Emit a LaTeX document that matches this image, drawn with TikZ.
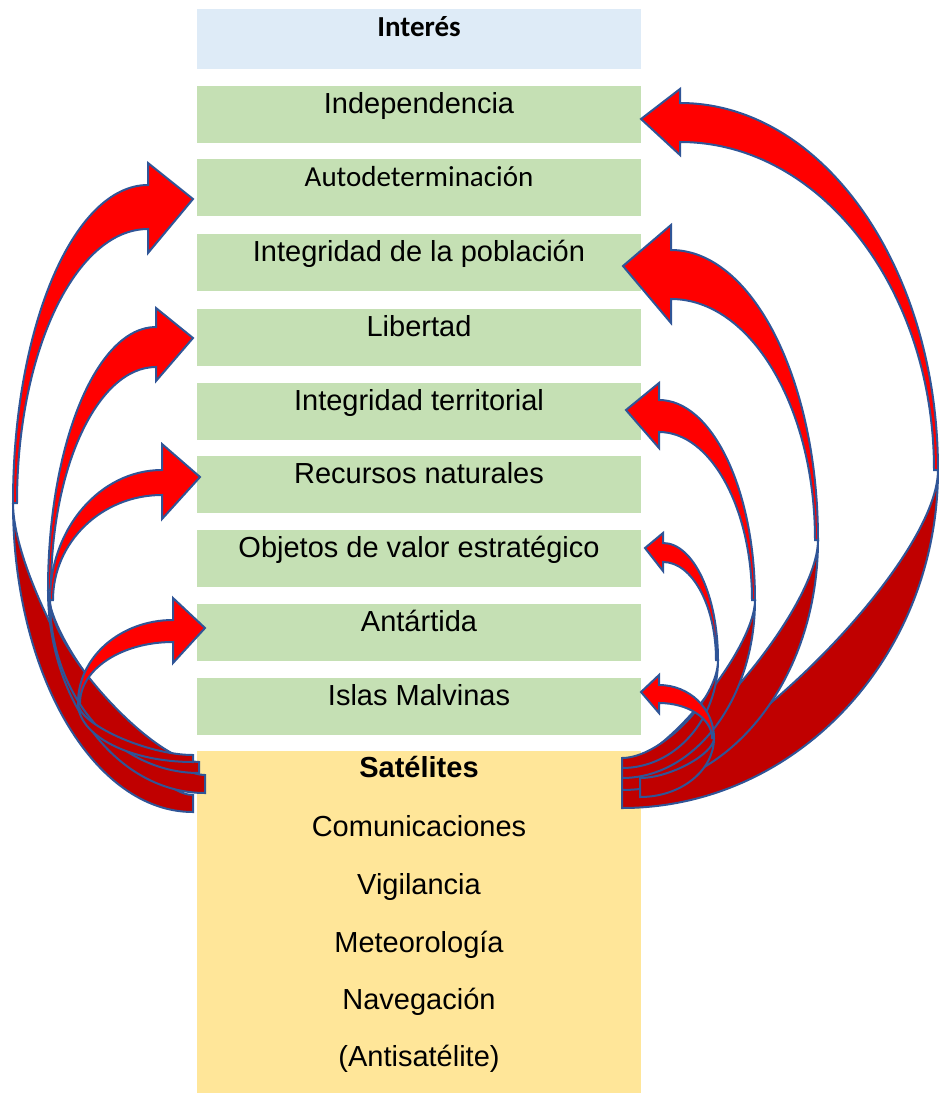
\documentclass[tikz,border=0pt]{standalone}
\usepackage{fontspec}
\setmainfont{Liberation Sans}
\newfontfamily\calib{Carlito}
\definecolor{hdrblue}{HTML}{DEEBF7}
\definecolor{rowgreen}{HTML}{C5E0B4}
\definecolor{satyellow}{HTML}{FFE699}
\definecolor{arrred}{HTML}{FF0000}
\definecolor{arrdark}{HTML}{C00000}
\definecolor{arrline}{HTML}{2F5597}
\begin{document}
\begin{tikzpicture}[x=1pt,y=1pt,
  box/.style={draw=none, inner sep=0pt, minimum width=444pt, anchor=north west},
  rowbox/.style={box, fill=rowgreen, minimum height=57pt},
  lbl/.style={anchor=base, inner sep=0pt, font=\fontsize{29}{35}\selectfont},
  clbl/.style={anchor=base, inner sep=0pt, font={\calib\fontsize{29}{35}\selectfont}},
  front/.style={fill=arrred, draw=arrline, line width=2pt},
  back/.style={fill=arrdark, draw=arrline, line width=2pt}]
\useasboundingbox (0,0) rectangle (939,-1093);

% boxes
\node[box, fill=hdrblue, minimum height=60pt] (b0) at (197,-9) {};
\node[rowbox] (b1) at (197,-86) {};
\node[rowbox] (b2) at (197,-159) {};
\node[rowbox] (b3) at (197,-234) {};
\node[rowbox] (b4) at (197,-309) {};
\node[rowbox] (b5) at (197,-383) {};
\node[rowbox] (b6) at (197,-456) {};
\node[rowbox] (b7) at (197,-530) {};
\node[rowbox] (b8) at (197,-604) {};
\node[rowbox] (b9) at (197,-678) {};
\node[box, fill=satyellow, minimum height=342pt] (sat) at (197,-751) {};

% texts
\node[clbl, font={\calib\bfseries\fontsize{29}{35}\selectfont}] (t0) at (419,-36) {Interés};
\node[lbl] (t1) at (419,-113) {Independencia};
\node[clbl] (t2) at (419,-186) {Autodeterminación};
\node[lbl] (t3) at (419,-261) {Integridad de la población};
\node[lbl] (t4) at (419,-336) {Libertad};
\node[lbl] (t5) at (419,-410) {Integridad territorial};
\node[lbl] (t6) at (419,-483) {Recursos naturales};
\node[lbl] (t7) at (419,-557) {Objetos de valor estratégico};
\node[lbl] (t8) at (419,-631) {Antártida};
\node[lbl] (t9) at (419,-705) {Islas Malvinas};
\node[lbl, font={\bfseries\fontsize{29}{35}\selectfont}] (s0) at (419,-777) {Satélites};
\node[lbl] (s1) at (419,-836) {Comunicaciones};
\node[lbl] (s2) at (419,-894) {Vigilancia};
\node[lbl] (s3) at (419,-952) {Meteorología};
\node[lbl] (s4) at (419,-1009) {Navegación};
\node[lbl] (s5) at (419,-1066) {(Antisatélite)};

% ---------- backs (dark) ----------
% left
\path[back] (13,-503) arc[start angle=180, end angle=270, x radius=180pt, y radius=309pt]
  -- (193,-795) .. controls (139,-795) and (13,-591) .. (13,-503) -- cycle;
\path[back] (48,-590) arc[start angle=180, end angle=270, x radius=157pt, y radius=203pt]
  -- (205,-775) .. controls (158,-775) and (48,-646) .. (48,-590) -- cycle;
\path[back] (50,-600) arc[start angle=180, end angle=270, x radius=149pt, y radius=173pt]
  -- (199,-762) .. controls (154,-762) and (50,-649) .. (50,-600) -- cycle;
\path[back] (78,-703) arc[start angle=180, end angle=270, x radius=115pt, y radius=59pt]
  -- (193,-755) .. controls (147,-755) and (78,-724) .. (78,-703) -- cycle;
% right
\path[back] (938,-470) arc[start angle=0, end angle=-90, x radius=316pt, y radius=338pt]
  -- (622,-783) .. controls (717,-783) and (938,-564) .. (938,-470) -- cycle;
\path[back] (818,-540) arc[start angle=0, end angle=-90, x radius=196pt, y radius=250pt]
  -- (622,-770) .. controls (681,-770) and (818,-609) .. (818,-540) -- cycle;
\path[back] (755,-600) arc[start angle=0, end angle=-90, x radius=133pt, y radius=178pt]
  -- (622,-763) .. controls (662,-763) and (755,-649) .. (755,-600) -- cycle;
\path[back] (718,-660) arc[start angle=0, end angle=-90, x radius=96pt, y radius=108pt]
  -- (622,-758) .. controls (660,-758) and (718,-700) .. (718,-660) -- cycle;
\path[back] (714,-738) arc[start angle=0, end angle=-90, x radius=74pt, y radius=59pt]
  -- (640,-778) .. controls (670,-778) and (714,-754) .. (714,-738) -- cycle;

% ---------- fronts (bright) ----------
% left
\path[front] (13,-503) arc[start angle=180, end angle=90, x radius=135pt, y radius=318pt]
  -- (148,-163) -- (193,-199) -- (148,-253) -- (148,-229)
  arc[start angle=90, end angle=180, x radius=131pt, y radius=274pt] -- cycle;
\path[front] (48,-590) arc[start angle=180, end angle=90, x radius=108pt, y radius=263pt]
  -- (156,-308) -- (193,-338) -- (156,-381) -- (156,-367)
  arc[start angle=90, end angle=180, x radius=105pt, y radius=223pt] -- cycle;
\path[front] (50,-600) arc[start angle=180, end angle=90, x radius=112pt, y radius=130pt]
  -- (162,-444) -- (200,-477) -- (162,-519) -- (162,-495)
  arc[start angle=90, end angle=180, x radius=109pt, y radius=105pt] -- cycle;
\path[front] (78,-703) arc[start angle=180, end angle=90, x radius=95pt, y radius=83pt]
  -- (173,-598) -- (205,-628) -- (173,-663) -- (173,-642)
  arc[start angle=90, end angle=180, x radius=93pt, y radius=61pt] -- cycle;
% right
\path[front] (938,-470) arc[start angle=0, end angle=90, x radius=258pt, y radius=367pt]
  -- (680,-89) -- (641,-119) -- (680,-155) -- (680,-142)
  arc[start angle=90, end angle=0, x radius=254pt, y radius=328pt] -- cycle;
\path[front] (818,-540) arc[start angle=0, end angle=90, x radius=147pt, y radius=290pt]
  -- (671,-225) -- (623,-266) -- (671,-323) -- (671,-299)
  arc[start angle=90, end angle=0, x radius=144pt, y radius=241pt] -- cycle;
\path[front] (755,-600) arc[start angle=0, end angle=90, x radius=96pt, y radius=200pt]
  -- (659,-383) -- (626,-410) -- (659,-448) -- (659,-432)
  arc[start angle=90, end angle=0, x radius=93pt, y radius=168pt] -- cycle;
\path[front] (718,-660) arc[start angle=0, end angle=90, x radius=55pt, y radius=117pt]
  -- (663,-533) -- (645,-548) -- (663,-571) -- (663,-562)
  arc[start angle=90, end angle=0, x radius=53pt, y radius=98pt] -- cycle;
\path[front] (714,-738) arc[start angle=0, end angle=90, x radius=55pt, y radius=53pt]
  -- (659,-675) -- (641,-692) -- (659,-713) -- (659,-703)
  arc[start angle=90, end angle=0, x radius=53pt, y radius=35pt] -- cycle;
\end{tikzpicture}
\end{document}
